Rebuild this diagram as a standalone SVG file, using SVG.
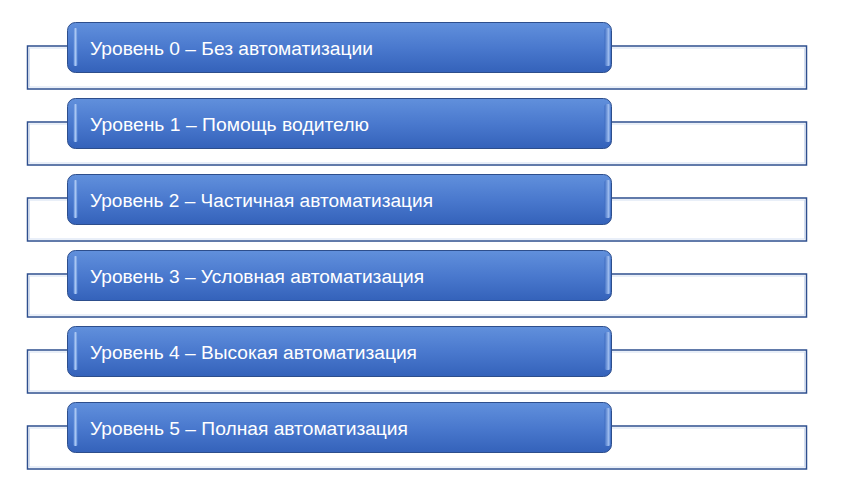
<svg xmlns="http://www.w3.org/2000/svg" width="852" height="501" viewBox="0 0 852 501">
<defs>
<linearGradient id="g" x1="0" y1="0" x2="0" y2="1">
<stop offset="0" stop-color="#6190DC"/>
<stop offset="0.5" stop-color="#4A79CE"/>
<stop offset="1" stop-color="#3462BA"/>
</linearGradient>
<linearGradient id="bar" x1="0" y1="0" x2="1" y2="0">
<stop offset="0" stop-color="#5C8BDA"/>
<stop offset="0.5" stop-color="#A9C6F2"/>
<stop offset="1" stop-color="#5C8BDA"/>
</linearGradient>
<linearGradient id="rbar" x1="0" y1="0" x2="1" y2="0">
<stop offset="0" stop-color="#3F6DC2"/>
<stop offset="0.7" stop-color="#9FBEF0"/>
<stop offset="1" stop-color="#4F7DCF"/>
</linearGradient>
<g id="row">
<rect x="27.5" y="24" width="779" height="43" fill="#FFFFFF" stroke="#2E4F8F" stroke-width="1.5"/>
<rect x="29.5" y="26" width="775" height="39" fill="none" stroke="#D3DFF2" stroke-width="1"/>
<rect x="67.5" y="0.5" width="544" height="50" rx="8" ry="8" fill="url(#g)" stroke="#2D4E8C" stroke-width="1"/>
<rect x="73.5" y="6" width="4" height="38" rx="1.5" fill="url(#bar)"/>
<rect x="604.5" y="6" width="6" height="38" rx="2" fill="url(#rbar)"/>
</g>
</defs>
<style>
.t{font-family:"Liberation Sans","Open Sans",Arial,sans-serif;font-size:18px;fill:#FFFFFF}
</style>
<g id="connectors"/>
<g id="n0"><use href="#row" y="22"/><text class="t" x="90" y="54.5" textLength="283" lengthAdjust="spacingAndGlyphs">Уровень 0 – Без автоматизации</text></g>
<g id="n1"><use href="#row" y="98"/><text class="t" x="90" y="130.5" textLength="279" lengthAdjust="spacingAndGlyphs">Уровень 1 – Помощь водителю</text></g>
<g id="n2"><use href="#row" y="174"/><text class="t" x="90" y="206.5" textLength="343" lengthAdjust="spacingAndGlyphs">Уровень 2 – Частичная автоматизация</text></g>
<g id="n3"><use href="#row" y="250"/><text class="t" x="90" y="282.5" textLength="334" lengthAdjust="spacingAndGlyphs">Уровень 3 – Условная автоматизация</text></g>
<g id="n4"><use href="#row" y="326"/><text class="t" x="90" y="358.5" textLength="327" lengthAdjust="spacingAndGlyphs">Уровень 4 – Высокая автоматизация</text></g>
<g id="n5"><use href="#row" y="402"/><text class="t" x="90" y="434.5" textLength="318" lengthAdjust="spacingAndGlyphs">Уровень 5 – Полная автоматизация</text></g>
</svg>
